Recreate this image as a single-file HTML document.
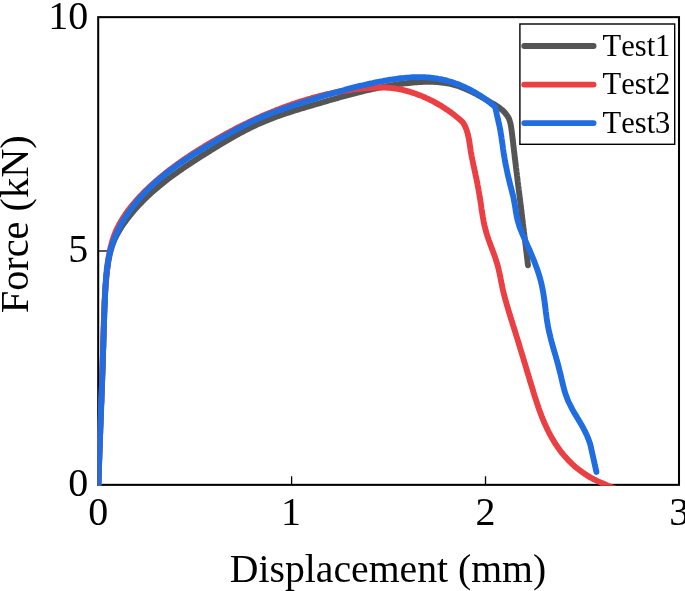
<!DOCTYPE html>
<html><head><meta charset="utf-8"><title>Force-Displacement</title>
<style>
html,body{margin:0;padding:0;background:#fff;}
body{width:685px;height:591px;overflow:hidden;}
svg{display:block;}
text{font-family:"Liberation Serif","Times New Roman",serif;fill:#000;font-kerning:none;}
</style></head><body>
<svg width="685" height="591" viewBox="0 0 685 591">
<defs><clipPath id="pc"><rect x="97.4" y="16.1" width="582.6" height="469.7"/></clipPath></defs>
<rect x="0" y="0" width="685" height="591" fill="#fff"/>
<!-- axes box -->
<rect x="98.2" y="17.15" width="580.8" height="467.7" fill="none" stroke="#000" stroke-width="2.05"/>
<!-- ticks -->
<g stroke="#000" stroke-width="1.3">
<line x1="291.6" y1="484.8" x2="291.6" y2="476.3"/>
<line x1="485.5" y1="484.8" x2="485.5" y2="476.3"/>
<line x1="98.2" y1="251.0" x2="107.6" y2="251.0"/>
</g>
<!-- curves -->
<g clip-path="url(#pc)" fill="none" stroke-width="5.9" stroke-linejoin="round" stroke-linecap="round">
<path stroke="#555555" d="M98.4,484.7 L98.5,482.7 L98.6,480.7 L98.6,478.7 L98.7,476.7 L98.7,474.7 L98.8,472.7 L98.9,470.6 L98.9,468.6 L99.0,466.6 L99.1,464.6 L99.1,462.6 L99.2,460.6 L99.3,458.6 L99.3,456.6 L99.4,454.6 L99.5,452.6 L99.5,450.6 L99.6,448.6 L99.7,446.6 L99.7,444.6 L99.8,442.5 L99.9,440.5 L100.0,438.5 L100.0,436.5 L100.1,434.5 L100.2,432.5 L100.2,430.5 L100.3,428.5 L100.4,426.5 L100.5,424.5 L100.5,422.5 L100.6,420.5 L100.7,418.5 L100.8,416.5 L100.8,414.5 L100.9,412.5 L101.0,410.5 L101.1,408.4 L101.1,406.4 L101.2,404.4 L101.3,402.4 L101.4,400.4 L101.4,398.4 L101.5,396.4 L101.6,394.4 L101.7,392.4 L101.7,390.4 L101.8,388.4 L101.9,386.4 L102.0,384.4 L102.0,382.4 L102.1,380.4 L102.2,378.4 L102.2,376.4 L102.3,374.3 L102.4,372.3 L102.5,370.3 L102.5,368.3 L102.6,366.3 L102.7,364.3 L102.7,362.3 L102.8,360.3 L102.9,358.3 L102.9,356.3 L103.0,354.3 L103.1,352.3 L103.1,350.3 L103.2,348.3 L103.3,346.3 L103.3,344.2 L103.4,342.2 L103.5,340.2 L103.5,338.2 L103.6,336.2 L103.6,334.2 L103.7,332.2 L103.8,330.2 L103.8,328.2 L103.9,326.2 L103.9,324.2 L104.0,322.2 L104.0,320.1 L104.1,318.1 L104.2,316.1 L104.2,314.1 L104.3,312.1 L104.3,310.1 L104.4,308.1 L104.5,306.1 L104.6,304.1 L104.6,302.1 L104.7,300.1 L104.8,298.1 L104.9,296.0 L105.0,294.0 L105.1,292.0 L105.3,290.0 L105.4,288.0 L105.5,286.0 L105.7,284.0 L105.9,282.0 L106.0,280.0 L106.2,278.0 L106.4,276.0 L106.6,274.1 L106.9,272.1 L107.1,270.1 L107.4,268.1 L107.7,266.1 L108.0,264.1 L108.3,262.1 L108.6,260.1 L109.0,258.2 L109.4,256.2 L109.8,254.3 L110.3,252.3 L110.8,250.4 L111.4,248.5 L111.9,246.6 L112.6,244.7 L113.3,242.8 L114.0,240.9 L114.8,239.1 L115.7,237.3 L116.6,235.5 L117.5,233.7 L118.5,231.9 L119.5,230.2 L120.6,228.4 L121.7,226.7 L122.8,225.0 L124.0,223.3 L125.2,221.7 L126.4,220.0 L127.6,218.4 L128.9,216.8 L130.1,215.2 L131.4,213.7 L132.7,212.1 L134.0,210.6 L135.3,209.1 L136.7,207.6 L138.0,206.1 L139.4,204.6 L140.8,203.2 L142.1,201.7 L143.5,200.3 L145.0,198.9 L146.4,197.5 L147.8,196.2 L149.3,194.8 L150.8,193.4 L152.2,192.1 L153.7,190.8 L155.2,189.5 L156.7,188.2 L158.3,186.9 L159.8,185.6 L161.3,184.4 L162.9,183.1 L164.5,181.9 L166.0,180.6 L167.6,179.4 L169.2,178.2 L170.8,177.0 L172.4,175.8 L174.0,174.6 L175.6,173.5 L177.3,172.3 L178.9,171.1 L180.5,170.0 L182.2,168.9 L183.8,167.7 L185.5,166.6 L187.2,165.5 L188.8,164.4 L190.5,163.3 L192.2,162.2 L193.9,161.1 L195.6,160.0 L197.2,158.9 L198.9,157.8 L200.6,156.7 L202.3,155.6 L204.0,154.6 L205.8,153.5 L207.5,152.4 L209.2,151.4 L210.9,150.3 L212.6,149.3 L214.3,148.2 L216.0,147.1 L217.7,146.1 L219.5,145.0 L221.2,144.0 L222.9,143.0 L224.6,141.9 L226.4,140.9 L228.1,139.9 L229.8,138.9 L231.6,137.9 L233.3,136.9 L235.1,135.9 L236.8,134.9 L238.6,134.0 L240.4,133.0 L242.1,132.1 L243.9,131.1 L245.7,130.2 L247.5,129.3 L249.3,128.4 L251.0,127.5 L252.9,126.6 L254.7,125.8 L256.5,124.9 L258.3,124.1 L260.1,123.3 L262.0,122.5 L263.8,121.7 L265.7,120.9 L267.5,120.2 L269.4,119.4 L271.3,118.7 L273.1,118.0 L275.0,117.3 L276.9,116.6 L278.8,115.9 L280.7,115.3 L282.6,114.6 L284.5,113.9 L286.4,113.3 L288.3,112.7 L290.2,112.1 L292.1,111.4 L294.0,110.8 L296.0,110.2 L297.9,109.6 L299.8,109.0 L301.7,108.5 L303.7,107.9 L305.6,107.3 L307.5,106.7 L309.4,106.1 L311.4,105.6 L313.3,105.0 L315.2,104.4 L317.2,103.9 L319.1,103.3 L321.0,102.8 L322.9,102.2 L324.9,101.6 L326.8,101.1 L328.7,100.5 L330.6,100.0 L332.5,99.4 L334.5,98.9 L336.4,98.3 L338.3,97.8 L340.2,97.2 L342.2,96.7 L344.1,96.2 L346.0,95.6 L347.9,95.1 L349.9,94.6 L351.8,94.1 L353.7,93.6 L355.6,93.1 L357.6,92.6 L359.5,92.1 L361.5,91.6 L363.4,91.1 L365.3,90.7 L367.3,90.2 L369.2,89.8 L371.2,89.3 L373.1,88.9 L375.1,88.5 L377.0,88.1 L379.0,87.7 L381.0,87.3 L382.9,86.9 L384.9,86.5 L386.9,86.1 L388.9,85.8 L390.8,85.5 L392.8,85.1 L394.8,84.8 L396.8,84.5 L398.8,84.2 L400.8,83.9 L402.8,83.7 L404.8,83.4 L406.9,83.2 L408.9,83.0 L410.9,82.8 L412.9,82.6 L415.0,82.4 L417.0,82.2 L419.1,82.1 L421.1,82.0 L423.2,81.9 L425.2,81.8 L427.3,81.8 L429.3,81.8 L431.3,81.8 L433.4,81.9 L435.4,82.0 L437.4,82.1 L439.4,82.3 L441.4,82.5 L443.4,82.7 L445.4,83.0 L447.3,83.3 L449.3,83.7 L451.2,84.1 L453.1,84.6 L455.0,85.1 L456.9,85.7 L458.8,86.3 L460.6,87.0 L462.5,87.7 L464.3,88.4 L466.1,89.2 L467.9,90.0 L469.7,90.9 L471.5,91.7 L473.3,92.6 L475.1,93.5 L476.9,94.5 L478.6,95.4 L480.4,96.4 L482.2,97.4 L484.0,98.4 L485.7,99.4 L487.5,100.4 L489.3,101.5 L491.0,102.5 L492.8,103.5 L494.6,104.6 L496.3,105.7 L498.0,106.8 L499.6,107.9 L501.2,109.2 L502.7,110.4 L504.1,111.8 L505.4,113.3 L506.6,114.8 L507.7,116.4 L508.7,118.1 L509.4,119.9 L510.0,121.8 L510.5,123.7 L510.9,125.7 L511.2,127.7 L511.5,129.7 L511.8,131.7 L512.0,133.7 L512.3,135.8 L512.5,137.8 L512.7,139.8 L513.0,141.8 L513.2,143.7 L513.4,145.7 L513.7,147.7 L513.9,149.7 L514.1,151.7 L514.4,153.7 L514.6,155.7 L514.8,157.7 L515.1,159.7 L515.3,161.7 L515.6,163.7 L515.8,165.7 L516.0,167.6 L516.3,169.6 L516.5,171.6 L516.8,173.6 L517.0,175.6 L517.3,177.6 L517.5,179.6 L517.7,181.6 L518.0,183.6 L518.2,185.6 L518.5,187.6 L518.7,189.6 L519.0,191.6 L519.2,193.5 L519.5,195.5 L519.7,197.5 L520.0,199.5 L520.2,201.5 L520.5,203.5 L520.7,205.5 L521.0,207.5 L521.2,209.5 L521.5,211.5 L521.7,213.5 L521.9,215.5 L522.2,217.5 L522.4,219.5 L522.7,221.4 L522.9,223.4 L523.2,225.4 L523.4,227.4 L523.7,229.4 L523.9,231.4 L524.2,233.4 L524.4,235.4 L524.7,237.4 L524.9,239.4 L525.1,241.4 L525.4,243.4 L525.6,245.4 L525.9,247.4 L526.1,249.4 L526.3,251.3 L526.6,253.3 L526.8,255.3 L527.0,257.3 L527.3,259.3 L527.5,261.3 L527.7,263.3 L528.0,265.3"/>
<path stroke="#ea4043" d="M98.4,484.7 L98.5,482.7 L98.6,480.7 L98.6,478.7 L98.7,476.7 L98.7,474.7 L98.8,472.7 L98.8,470.6 L98.9,468.6 L98.9,466.6 L99.0,464.6 L99.1,462.6 L99.1,460.6 L99.2,458.6 L99.3,456.6 L99.3,454.6 L99.4,452.6 L99.5,450.6 L99.5,448.6 L99.6,446.6 L99.7,444.5 L99.8,442.5 L99.8,440.5 L99.9,438.5 L100.0,436.5 L100.1,434.5 L100.2,432.5 L100.2,430.5 L100.3,428.5 L100.4,426.5 L100.5,424.5 L100.6,422.5 L100.6,420.5 L100.7,418.5 L100.8,416.4 L100.9,414.4 L101.0,412.4 L101.1,410.4 L101.1,408.4 L101.2,406.4 L101.3,404.4 L101.4,402.4 L101.5,400.4 L101.5,398.4 L101.6,396.4 L101.7,394.4 L101.8,392.4 L101.8,390.4 L101.9,388.3 L102.0,386.3 L102.1,384.3 L102.1,382.3 L102.2,380.3 L102.3,378.3 L102.3,376.3 L102.4,374.3 L102.5,372.3 L102.5,370.3 L102.6,368.3 L102.7,366.3 L102.7,364.3 L102.8,362.2 L102.8,360.2 L102.9,358.2 L102.9,356.2 L103.0,354.2 L103.0,352.2 L103.1,350.2 L103.1,348.2 L103.2,346.2 L103.2,344.2 L103.3,342.2 L103.3,340.2 L103.4,338.1 L103.4,336.1 L103.5,334.1 L103.5,332.1 L103.6,330.1 L103.6,328.1 L103.7,326.1 L103.7,324.1 L103.8,322.1 L103.9,320.1 L103.9,318.1 L104.0,316.1 L104.1,314.0 L104.2,312.0 L104.3,310.0 L104.3,308.0 L104.4,306.0 L104.5,304.0 L104.6,302.0 L104.7,300.0 L104.9,298.0 L105.0,296.0 L105.1,294.0 L105.2,292.0 L105.4,290.0 L105.5,288.0 L105.7,286.0 L105.8,284.0 L106.0,282.0 L106.2,280.0 L106.3,278.0 L106.5,276.0 L106.7,274.0 L106.9,272.0 L107.1,270.0 L107.3,268.0 L107.6,266.0 L107.8,264.0 L108.1,262.0 L108.3,260.0 L108.6,258.0 L108.9,256.0 L109.3,254.0 L109.6,252.1 L110.0,250.1 L110.4,248.1 L110.9,246.2 L111.4,244.3 L111.9,242.4 L112.5,240.4 L113.1,238.5 L113.7,236.7 L114.4,234.8 L115.1,232.9 L115.9,231.1 L116.7,229.3 L117.6,227.5 L118.5,225.7 L119.4,223.9 L120.4,222.2 L121.4,220.5 L122.5,218.8 L123.5,217.1 L124.7,215.4 L125.8,213.7 L127.0,212.1 L128.1,210.4 L129.4,208.8 L130.6,207.2 L131.9,205.7 L133.2,204.1 L134.5,202.6 L135.8,201.0 L137.2,199.5 L138.5,198.0 L139.9,196.5 L141.3,195.0 L142.7,193.6 L144.1,192.2 L145.6,190.7 L147.0,189.3 L148.5,187.9 L150.0,186.5 L151.4,185.2 L152.9,183.8 L154.4,182.5 L155.9,181.1 L157.5,179.8 L159.0,178.5 L160.5,177.2 L162.1,175.9 L163.6,174.7 L165.2,173.4 L166.8,172.2 L168.3,170.9 L169.9,169.7 L171.5,168.5 L173.1,167.3 L174.7,166.1 L176.4,164.9 L178.0,163.7 L179.6,162.6 L181.3,161.4 L182.9,160.3 L184.6,159.1 L186.2,158.0 L187.9,156.9 L189.6,155.8 L191.2,154.7 L192.9,153.6 L194.6,152.5 L196.3,151.4 L198.0,150.3 L199.7,149.3 L201.4,148.2 L203.1,147.2 L204.8,146.1 L206.5,145.1 L208.3,144.1 L210.0,143.0 L211.7,142.0 L213.4,141.0 L215.2,140.0 L216.9,139.0 L218.6,138.0 L220.4,137.0 L222.1,136.0 L223.9,135.1 L225.6,134.1 L227.4,133.1 L229.2,132.2 L230.9,131.2 L232.7,130.3 L234.5,129.4 L236.2,128.4 L238.0,127.5 L239.8,126.6 L241.6,125.7 L243.4,124.8 L245.2,123.9 L247.0,123.1 L248.8,122.2 L250.6,121.3 L252.4,120.5 L254.2,119.6 L256.0,118.8 L257.8,117.9 L259.7,117.1 L261.5,116.3 L263.3,115.5 L265.2,114.7 L267.0,113.9 L268.9,113.1 L270.7,112.4 L272.6,111.6 L274.4,110.9 L276.3,110.1 L278.2,109.4 L280.0,108.7 L281.9,108.0 L283.8,107.2 L285.7,106.6 L287.6,105.9 L289.5,105.2 L291.4,104.5 L293.3,103.9 L295.2,103.2 L297.1,102.6 L299.0,102.0 L300.9,101.4 L302.9,100.8 L304.8,100.2 L306.7,99.6 L308.7,99.0 L310.6,98.5 L312.5,97.9 L314.5,97.4 L316.4,96.9 L318.4,96.4 L320.3,95.9 L322.3,95.4 L324.3,94.9 L326.2,94.4 L328.2,94.0 L330.2,93.6 L332.1,93.1 L334.1,92.7 L336.1,92.3 L338.1,92.0 L340.0,91.6 L342.0,91.2 L344.0,90.9 L346.0,90.6 L348.0,90.3 L350.0,90.0 L351.9,89.7 L353.9,89.4 L355.9,89.2 L357.9,88.9 L359.9,88.7 L361.9,88.5 L363.9,88.3 L365.9,88.2 L367.9,88.0 L369.9,87.9 L371.9,87.7 L373.9,87.6 L375.9,87.6 L377.9,87.5 L379.9,87.5 L381.9,87.5 L383.9,87.5 L385.8,87.6 L387.8,87.7 L389.8,87.9 L391.8,88.1 L393.7,88.3 L395.7,88.6 L397.7,88.9 L399.6,89.3 L401.6,89.7 L403.5,90.1 L405.5,90.6 L407.4,91.1 L409.3,91.6 L411.2,92.2 L413.2,92.9 L415.1,93.5 L417.0,94.2 L418.8,94.9 L420.7,95.6 L422.6,96.4 L424.5,97.2 L426.3,98.1 L428.2,98.9 L430.0,99.8 L431.8,100.7 L433.6,101.6 L435.4,102.6 L437.2,103.6 L438.9,104.6 L440.7,105.6 L442.4,106.7 L444.1,107.8 L445.8,108.9 L447.5,110.0 L449.1,111.2 L450.8,112.3 L452.4,113.5 L454.0,114.8 L455.5,116.0 L457.1,117.3 L458.6,118.5 L460.1,119.8 L461.6,121.2 L463.0,122.6 L464.1,124.3 L465.0,126.1 L465.8,128.0 L466.5,129.8 L467.1,131.7 L467.7,133.6 L468.1,135.6 L468.6,137.5 L469.0,139.5 L469.3,141.5 L469.6,143.5 L469.9,145.5 L470.2,147.5 L470.5,149.5 L470.8,151.5 L471.2,153.5 L471.5,155.5 L471.9,157.5 L472.3,159.4 L472.7,161.4 L473.1,163.4 L473.5,165.4 L473.9,167.3 L474.4,169.3 L474.8,171.3 L475.2,173.2 L475.6,175.2 L476.1,177.2 L476.5,179.1 L476.9,181.1 L477.3,183.1 L477.6,185.0 L478.0,187.0 L478.4,189.0 L478.7,191.0 L479.1,193.0 L479.4,194.9 L479.7,196.9 L480.1,198.9 L480.4,200.9 L480.7,202.9 L481.0,204.9 L481.3,206.9 L481.5,208.9 L481.8,210.9 L482.2,212.9 L482.5,214.9 L482.8,216.8 L483.2,218.8 L483.5,220.8 L483.9,222.8 L484.3,224.7 L484.8,226.7 L485.3,228.7 L485.8,230.6 L486.3,232.5 L486.9,234.5 L487.5,236.4 L488.2,238.3 L488.8,240.2 L489.5,242.1 L490.2,244.0 L490.9,245.9 L491.6,247.8 L492.3,249.6 L493.0,251.5 L493.7,253.4 L494.4,255.3 L495.1,257.2 L495.7,259.1 L496.3,261.1 L496.9,263.0 L497.5,264.9 L498.0,266.8 L498.5,268.8 L498.9,270.7 L499.4,272.7 L499.8,274.7 L500.2,276.6 L500.6,278.6 L501.0,280.6 L501.4,282.6 L501.8,284.5 L502.2,286.5 L502.6,288.5 L503.0,290.4 L503.5,292.4 L504.0,294.3 L504.5,296.3 L505.0,298.2 L505.5,300.2 L506.1,302.1 L506.6,304.1 L507.2,306.0 L507.8,307.9 L508.3,309.9 L508.9,311.8 L509.5,313.7 L510.1,315.6 L510.7,317.6 L511.3,319.5 L511.9,321.4 L512.5,323.3 L513.1,325.3 L513.7,327.2 L514.3,329.1 L514.9,331.0 L515.5,332.9 L516.1,334.9 L516.7,336.8 L517.3,338.7 L517.9,340.6 L518.5,342.6 L519.1,344.5 L519.7,346.4 L520.2,348.3 L520.8,350.3 L521.4,352.2 L522.0,354.1 L522.6,356.0 L523.2,358.0 L523.7,359.9 L524.3,361.8 L524.9,363.7 L525.5,365.7 L526.1,367.6 L526.6,369.5 L527.2,371.4 L527.8,373.4 L528.4,375.3 L529.0,377.2 L529.5,379.1 L530.1,381.1 L530.7,383.0 L531.3,384.9 L531.9,386.9 L532.5,388.8 L533.0,390.7 L533.6,392.6 L534.2,394.6 L534.8,396.5 L535.5,398.4 L536.1,400.3 L536.7,402.2 L537.3,404.2 L538.0,406.1 L538.6,408.0 L539.3,409.9 L540.0,411.8 L540.7,413.6 L541.4,415.5 L542.1,417.4 L542.9,419.3 L543.7,421.1 L544.4,423.0 L545.3,424.8 L546.1,426.6 L546.9,428.4 L547.8,430.2 L548.7,432.0 L549.6,433.8 L550.6,435.6 L551.6,437.4 L552.6,439.1 L553.6,440.8 L554.7,442.6 L555.8,444.3 L556.9,445.9 L558.0,447.6 L559.2,449.2 L560.4,450.9 L561.6,452.5 L562.9,454.0 L564.2,455.6 L565.5,457.1 L566.9,458.6 L568.2,460.1 L569.6,461.5 L571.1,462.9 L572.5,464.3 L574.0,465.7 L575.5,467.0 L577.1,468.3 L578.7,469.5 L580.3,470.8 L581.9,471.9 L583.5,473.1 L585.2,474.2 L586.9,475.3 L588.6,476.4 L590.3,477.4 L592.1,478.3 L593.9,479.3 L595.7,480.2 L597.5,481.1 L599.3,481.9 L601.2,482.7 L603.0,483.5 L604.9,484.3 L606.7,485.1 L608.6,485.9 L610.5,486.7 L612.3,487.4 L614.2,488.2 L616.0,489.0"/>
<path stroke="#1f6de0" d="M98.4,484.7 L98.5,482.7 L98.6,480.7 L98.6,478.7 L98.7,476.7 L98.7,474.7 L98.8,472.6 L98.9,470.6 L98.9,468.6 L99.0,466.6 L99.1,464.6 L99.1,462.6 L99.2,460.6 L99.3,458.6 L99.4,456.6 L99.4,454.6 L99.5,452.6 L99.6,450.6 L99.6,448.5 L99.7,446.5 L99.8,444.5 L99.8,442.5 L99.9,440.5 L100.0,438.5 L100.1,436.5 L100.1,434.5 L100.2,432.5 L100.3,430.4 L100.3,428.4 L100.4,426.4 L100.5,424.4 L100.6,422.4 L100.6,420.4 L100.7,418.4 L100.8,416.4 L100.8,414.4 L100.9,412.3 L101.0,410.3 L101.1,408.3 L101.1,406.3 L101.2,404.3 L101.3,402.3 L101.4,400.3 L101.4,398.3 L101.5,396.2 L101.6,394.2 L101.6,392.2 L101.7,390.2 L101.8,388.2 L101.9,386.2 L101.9,384.2 L102.0,382.2 L102.1,380.2 L102.1,378.2 L102.2,376.1 L102.3,374.1 L102.4,372.1 L102.4,370.1 L102.5,368.1 L102.6,366.1 L102.6,364.1 L102.7,362.1 L102.8,360.1 L102.8,358.1 L102.9,356.1 L103.0,354.1 L103.0,352.1 L103.1,350.0 L103.2,348.0 L103.3,346.0 L103.3,344.0 L103.4,342.0 L103.4,340.0 L103.5,338.0 L103.6,336.0 L103.6,334.0 L103.7,332.0 L103.8,330.0 L103.8,328.0 L103.9,326.0 L104.0,324.0 L104.0,322.0 L104.1,320.0 L104.2,318.0 L104.2,316.0 L104.3,314.0 L104.4,312.0 L104.5,309.9 L104.5,307.9 L104.6,305.9 L104.7,303.9 L104.8,301.9 L104.9,299.9 L104.9,297.8 L105.0,295.8 L105.1,293.8 L105.2,291.8 L105.3,289.7 L105.4,287.7 L105.5,285.7 L105.6,283.7 L105.8,281.6 L105.9,279.6 L106.1,277.6 L106.2,275.6 L106.4,273.5 L106.6,271.5 L106.8,269.5 L107.1,267.5 L107.4,265.5 L107.6,263.6 L108.0,261.6 L108.3,259.6 L108.7,257.6 L109.1,255.7 L109.5,253.7 L110.0,251.8 L110.5,249.9 L111.1,248.0 L111.6,246.1 L112.2,244.2 L112.9,242.3 L113.6,240.5 L114.3,238.6 L115.0,236.8 L115.8,235.0 L116.6,233.2 L117.4,231.4 L118.3,229.6 L119.2,227.8 L120.1,226.0 L121.1,224.3 L122.1,222.6 L123.1,220.8 L124.1,219.1 L125.2,217.4 L126.3,215.8 L127.4,214.1 L128.5,212.4 L129.7,210.8 L130.8,209.2 L132.1,207.6 L133.3,206.0 L134.5,204.4 L135.8,202.8 L137.1,201.3 L138.4,199.7 L139.7,198.2 L141.1,196.7 L142.4,195.2 L143.8,193.7 L145.2,192.3 L146.6,190.8 L148.1,189.4 L149.5,188.0 L151.0,186.6 L152.4,185.2 L153.9,183.8 L155.4,182.4 L156.9,181.1 L158.5,179.8 L160.0,178.5 L161.5,177.2 L163.1,175.9 L164.7,174.6 L166.2,173.4 L167.8,172.1 L169.4,170.9 L171.0,169.7 L172.7,168.5 L174.3,167.3 L175.9,166.1 L177.6,164.9 L179.2,163.8 L180.9,162.6 L182.5,161.5 L184.2,160.4 L185.9,159.3 L187.6,158.2 L189.3,157.1 L191.0,156.0 L192.7,154.9 L194.4,153.8 L196.1,152.8 L197.8,151.7 L199.5,150.7 L201.2,149.6 L203.0,148.6 L204.7,147.5 L206.4,146.5 L208.2,145.5 L209.9,144.5 L211.7,143.5 L213.4,142.4 L215.2,141.4 L216.9,140.4 L218.7,139.4 L220.4,138.4 L222.1,137.4 L223.9,136.4 L225.7,135.5 L227.4,134.5 L229.2,133.5 L230.9,132.5 L232.7,131.5 L234.4,130.6 L236.2,129.6 L238.0,128.7 L239.7,127.7 L241.5,126.8 L243.3,125.9 L245.1,125.0 L246.9,124.1 L248.7,123.2 L250.5,122.3 L252.3,121.4 L254.1,120.6 L255.9,119.8 L257.7,118.9 L259.5,118.1 L261.4,117.3 L263.2,116.5 L265.0,115.8 L266.9,115.0 L268.8,114.3 L270.6,113.5 L272.5,112.8 L274.4,112.1 L276.2,111.4 L278.1,110.7 L280.0,110.0 L281.9,109.4 L283.8,108.7 L285.7,108.1 L287.6,107.4 L289.5,106.8 L291.4,106.1 L293.3,105.5 L295.2,104.9 L297.1,104.2 L299.0,103.6 L300.9,103.0 L302.8,102.4 L304.8,101.8 L306.7,101.2 L308.6,100.6 L310.5,100.0 L312.4,99.4 L314.3,98.8 L316.3,98.2 L318.2,97.6 L320.1,97.0 L322.0,96.4 L323.9,95.8 L325.9,95.2 L327.8,94.7 L329.7,94.1 L331.6,93.5 L333.6,93.0 L335.5,92.4 L337.4,91.9 L339.4,91.3 L341.3,90.8 L343.3,90.3 L345.2,89.7 L347.2,89.2 L349.1,88.7 L351.0,88.2 L353.0,87.7 L355.0,87.2 L356.9,86.7 L358.9,86.2 L360.8,85.7 L362.8,85.3 L364.8,84.8 L366.7,84.4 L368.7,83.9 L370.7,83.5 L372.7,83.1 L374.6,82.6 L376.6,82.2 L378.6,81.8 L380.6,81.4 L382.6,81.1 L384.6,80.7 L386.6,80.3 L388.6,80.0 L390.6,79.7 L392.6,79.4 L394.6,79.1 L396.6,78.8 L398.6,78.5 L400.6,78.3 L402.6,78.1 L404.6,77.9 L406.6,77.7 L408.6,77.6 L410.6,77.4 L412.6,77.3 L414.6,77.2 L416.6,77.2 L418.6,77.2 L420.6,77.2 L422.6,77.2 L424.6,77.3 L426.6,77.4 L428.5,77.5 L430.5,77.7 L432.5,77.9 L434.5,78.2 L436.4,78.4 L438.4,78.8 L440.3,79.1 L442.3,79.5 L444.2,80.0 L446.1,80.4 L448.1,81.0 L450.0,81.5 L451.9,82.1 L453.8,82.7 L455.7,83.4 L457.5,84.1 L459.4,84.8 L461.3,85.6 L463.1,86.4 L464.9,87.2 L466.8,88.1 L468.6,89.0 L470.4,89.9 L472.1,90.9 L473.9,91.9 L475.6,92.9 L477.4,93.9 L479.1,95.0 L480.8,96.1 L482.5,97.2 L484.1,98.4 L485.8,99.6 L487.4,100.7 L489.0,102.0 L490.6,103.2 L492.1,104.5 L493.7,105.7 L495.2,107.0 L495.6,109.0 L496.0,110.9 L496.5,112.9 L496.9,114.9 L497.4,116.9 L497.8,118.8 L498.3,120.8 L498.7,122.8 L499.2,124.7 L499.6,126.7 L500.0,128.7 L500.4,130.7 L500.7,132.7 L501.0,134.6 L501.4,136.6 L501.6,138.6 L501.9,140.6 L502.2,142.6 L502.5,144.6 L502.8,146.6 L503.0,148.6 L503.3,150.6 L503.6,152.6 L503.9,154.6 L504.3,156.6 L504.6,158.6 L504.9,160.6 L505.3,162.6 L505.7,164.6 L506.1,166.5 L506.5,168.5 L506.9,170.5 L507.3,172.5 L507.7,174.5 L508.2,176.4 L508.7,178.4 L509.1,180.3 L509.6,182.3 L510.1,184.2 L510.6,186.2 L511.1,188.1 L511.6,190.1 L512.1,192.0 L512.6,194.0 L513.1,196.0 L513.5,197.9 L513.9,199.9 L514.3,201.9 L514.6,203.9 L515.0,205.9 L515.3,207.9 L515.6,209.9 L515.9,211.9 L516.3,213.9 L516.6,215.9 L517.0,217.8 L517.5,219.8 L518.0,221.7 L518.6,223.7 L519.2,225.6 L519.8,227.5 L520.5,229.3 L521.3,231.2 L522.0,233.1 L522.8,234.9 L523.6,236.8 L524.4,238.6 L525.3,240.5 L526.1,242.3 L526.9,244.2 L527.7,246.0 L528.6,247.9 L529.4,249.7 L530.2,251.6 L531.0,253.4 L531.8,255.3 L532.5,257.2 L533.3,259.0 L534.1,260.9 L534.8,262.8 L535.5,264.7 L536.2,266.6 L536.9,268.5 L537.6,270.4 L538.2,272.3 L538.8,274.2 L539.4,276.1 L540.0,278.1 L540.5,280.0 L541.0,282.0 L541.5,283.9 L541.9,285.9 L542.3,287.8 L542.7,289.8 L543.1,291.8 L543.4,293.8 L543.7,295.8 L544.0,297.8 L544.3,299.8 L544.6,301.8 L544.8,303.8 L545.1,305.8 L545.3,307.8 L545.6,309.8 L545.8,311.8 L546.1,313.9 L546.4,315.9 L546.6,317.9 L546.9,319.9 L547.2,321.9 L547.6,323.9 L547.9,325.8 L548.3,327.8 L548.7,329.8 L549.1,331.8 L549.6,333.7 L550.1,335.7 L550.5,337.6 L551.0,339.6 L551.5,341.5 L552.1,343.5 L552.6,345.4 L553.1,347.4 L553.7,349.3 L554.2,351.2 L554.8,353.2 L555.4,355.1 L555.9,357.1 L556.5,359.0 L557.0,360.9 L557.6,362.9 L558.1,364.8 L558.6,366.8 L559.1,368.7 L559.6,370.7 L560.1,372.7 L560.6,374.6 L561.1,376.6 L561.5,378.6 L562.0,380.6 L562.4,382.5 L562.9,384.5 L563.4,386.5 L563.9,388.4 L564.4,390.4 L565.0,392.3 L565.6,394.2 L566.3,396.1 L567.0,398.0 L567.7,399.8 L568.5,401.7 L569.4,403.5 L570.3,405.3 L571.2,407.1 L572.1,408.9 L573.1,410.7 L574.1,412.4 L575.1,414.2 L576.2,415.9 L577.2,417.6 L578.2,419.4 L579.3,421.1 L580.3,422.8 L581.3,424.6 L582.3,426.3 L583.3,428.1 L584.2,429.9 L585.2,431.7 L586.0,433.5 L586.9,435.3 L587.6,437.2 L588.4,439.1 L589.1,441.0 L589.8,442.9 L590.4,444.8 L590.9,447.1 L591.4,449.3 L591.9,451.6 L592.4,453.8 L592.9,456.1 L593.4,458.3 L593.9,460.6 L594.4,462.9 L594.9,465.1 L595.4,467.4 L595.9,469.6 L596.4,471.9"/>
</g>
<!-- legend -->
<rect x="519.9" y="24" width="154.8" height="120.3" fill="#fff" stroke="#000" stroke-width="1.4"/>
<g fill="none" stroke-width="5.8" stroke-linecap="round">
<line x1="524.2" y1="46" x2="593.6" y2="46" stroke="#555555"/>
<line x1="524.2" y1="84.6" x2="593.6" y2="84.6" stroke="#ea4043"/>
<line x1="524.2" y1="123.1" x2="593.6" y2="123.1" stroke="#1f6de0"/>
</g>
<g font-size="30.5px">
<text x="602.6" y="55.8">Test1</text>
<text x="602.6" y="94.4">Test2</text>
<text x="602.6" y="132.9">Test3</text>
</g>
<!-- tick labels -->
<g font-size="40px">
<text transform="translate(88.3,28.9) scale(1,1.012)" text-anchor="end">10</text>
<text transform="translate(88.3,262.4) scale(1,1.012)" text-anchor="end">5</text>
<text transform="translate(88.3,496.4) scale(1,1.012)" text-anchor="end">0</text>
<text transform="translate(98.3,524.7) scale(1,1.012)" text-anchor="middle">0</text>
<text transform="translate(291.0,524.7) scale(1,1.012)" text-anchor="middle">1</text>
<text transform="translate(485.6,524.7) scale(1,1.012)" text-anchor="middle">2</text>
<text transform="translate(679.2,524.7) scale(1,1.012)" text-anchor="middle">3</text>
</g>
<!-- axis labels -->
<text x="388" y="582.3" font-size="39.7px" text-anchor="middle">Displacement (mm)</text>
<text transform="translate(28,224.3) rotate(-90)" font-size="40.3px" text-anchor="middle">Force (kN)</text>
</svg>
</body></html>
